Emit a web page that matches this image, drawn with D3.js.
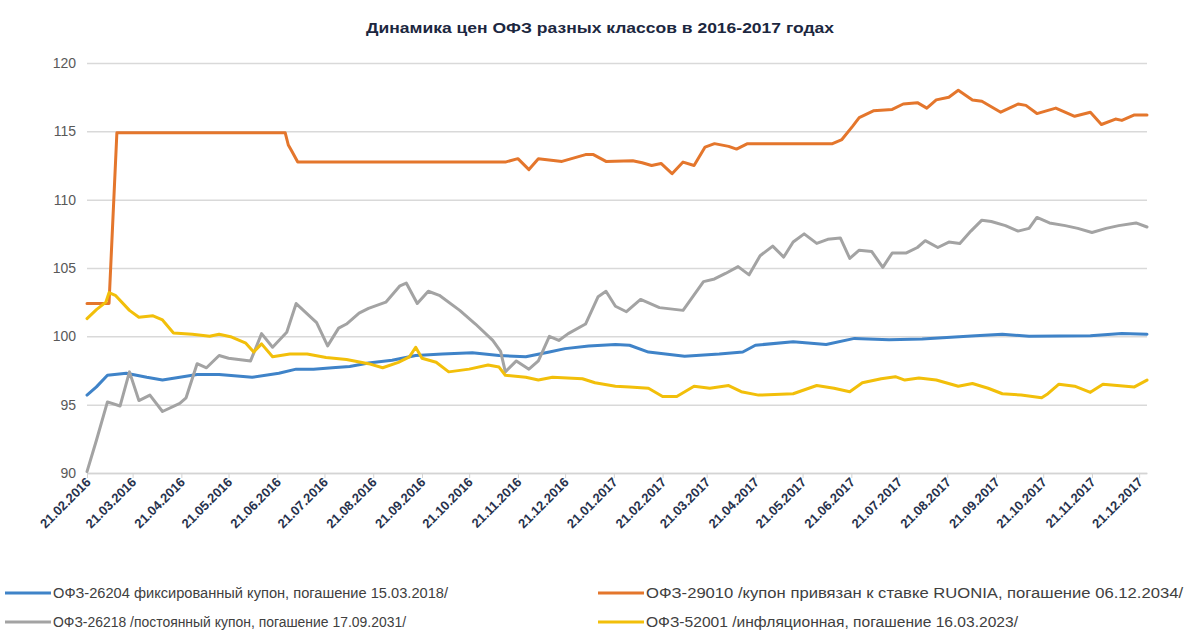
<!DOCTYPE html>
<html>
<head>
<meta charset="utf-8">
<script src="https://cdn.jsdelivr.net/npm/d3@7"></script>
<style>
  body { margin: 0; background: #fff; }
  svg { display: block; font-family: "Liberation Sans", Arial, sans-serif; }
</style>
</head>
<body>
<svg id="chart" width="1194" height="635"></svg>
<script>
// ---- Chart text ----
const chartTitle = "Динамика цен ОФЗ разных классов в 2016-2017 годах";
const yTickValues = [90, 95, 100, 105, 110, 115, 120];
const xTickLabels = [
  "21.02.2016", "21.03.2016", "21.04.2016", "21.05.2016", "21.06.2016", "21.07.2016",
  "21.08.2016", "21.09.2016", "21.10.2016", "21.11.2016", "21.12.2016", "21.01.2017",
  "21.02.2017", "21.03.2017", "21.04.2017", "21.05.2017", "21.06.2017", "21.07.2017",
  "21.08.2017", "21.09.2017", "21.10.2017", "21.11.2017", "21.12.2017"
];
const seriesNames = [
  "ОФЗ-26204 фиксированный купон, погашение 15.03.2018/",
  "ОФЗ-29010 /купон привязан к ставке RUONIA, погашение 06.12.2034/",
  "ОФЗ-26218 /постоянный купон, погашение 17.09.2031/",
  "ОФЗ-52001 /инфляционная, погашение 16.03.2023/"
];
const seriesColors = ["#3f83c8", "#e4762c", "#a3a3a3", "#f2bf0a"];

// ---- ОФЗ-26204 ----
const dates26204 = [
  "2016-02-21","2016-02-27","2016-03-05","2016-03-17","2016-03-30","2016-04-09","2016-04-20",
  "2016-05-01","2016-05-15","2016-06-05","2016-06-22","2016-07-03","2016-07-14","2016-07-26",
  "2016-08-06","2016-08-18","2016-09-02","2016-09-17","2016-10-04","2016-10-23","2016-11-09",
  "2016-11-26","2016-12-11","2016-12-21","2017-01-05","2017-01-22","2017-01-31","2017-02-12",
  "2017-03-07","2017-03-29","2017-04-13","2017-04-21","2017-05-15","2017-06-05","2017-06-23",
  "2017-07-15","2017-08-05","2017-09-08","2017-09-25","2017-10-12","2017-11-20","2017-12-10",
  "2017-12-26"
];
const values26204 = [
  95.7, 96.3, 97.15, 97.3, 97.0, 96.8, 97.0,
  97.2, 97.2, 97.0, 97.3, 97.6, 97.6, 97.7,
  97.8, 98.05, 98.25, 98.6, 98.7, 98.8, 98.6,
  98.5, 98.85, 99.1, 99.3, 99.4, 99.35, 98.85,
  98.55, 98.7, 98.85, 99.35, 99.6, 99.4, 99.85,
  99.75, 99.8, 100.05, 100.15, 100.0, 100.05, 100.2,
  100.15
];

// ---- ОФЗ-29010 ----
const dates29010 = [
  "2016-02-21","2016-03-06","2016-03-11","2016-06-26","2016-06-28","2016-06-30","2016-07-04",
  "2016-11-13","2016-11-21","2016-11-28","2016-12-04","2016-12-19","2017-01-03","2017-01-08",
  "2017-01-16","2017-02-02","2017-02-08","2017-02-14","2017-02-20","2017-02-27","2017-03-06",
  "2017-03-13","2017-03-20","2017-03-26","2017-04-04","2017-04-09","2017-04-16","2017-06-09",
  "2017-06-15","2017-06-22","2017-06-26","2017-07-05","2017-07-17","2017-07-24","2017-08-02",
  "2017-08-08","2017-08-14","2017-08-22","2017-08-28","2017-09-06","2017-09-12","2017-09-24",
  "2017-10-05","2017-10-10","2017-10-17","2017-10-29","2017-11-10","2017-11-20","2017-11-27",
  "2017-12-06","2017-12-10","2017-12-18","2017-12-26"
];
const values29010 = [
  102.4, 102.4, 114.9, 114.9, 114.0, 113.6, 112.75,
  112.75, 113.0, 112.2, 113.0, 112.8, 113.3, 113.3,
  112.8, 112.85, 112.7, 112.5, 112.65, 111.9, 112.75,
  112.5, 113.85, 114.1, 113.9, 113.7, 114.1, 114.1,
  114.4, 115.4, 116.0, 116.5, 116.6, 117.0, 117.1,
  116.7, 117.3, 117.5, 118.0, 117.3, 117.2, 116.4,
  117.0, 116.9, 116.3, 116.7, 116.1, 116.4, 115.5,
  115.9, 115.8, 116.2, 116.2
];

// ---- ОФЗ-26218 ----
const dates26218 = [
  "2016-02-21","2016-02-27","2016-03-05","2016-03-13","2016-03-19","2016-03-25","2016-04-01",
  "2016-04-09","2016-04-20","2016-04-24","2016-05-01","2016-05-07","2016-05-15","2016-05-21",
  "2016-06-04","2016-06-11","2016-06-18","2016-06-27","2016-07-03","2016-07-16","2016-07-23",
  "2016-07-30","2016-08-04","2016-08-12","2016-08-18","2016-08-29","2016-09-07","2016-09-11",
  "2016-09-18","2016-09-25","2016-10-02","2016-10-15","2016-10-25","2016-11-05","2016-11-10",
  "2016-11-13","2016-11-20","2016-11-28","2016-12-04","2016-12-11","2016-12-17","2016-12-23",
  "2017-01-03","2017-01-11","2017-01-16","2017-01-22","2017-01-29","2017-02-07","2017-02-19",
  "2017-03-06","2017-03-19","2017-03-26","2017-04-02","2017-04-10","2017-04-17","2017-04-24",
  "2017-05-02","2017-05-09","2017-05-15","2017-05-22","2017-05-30","2017-06-06","2017-06-14",
  "2017-06-20","2017-06-26","2017-07-04","2017-07-11","2017-07-17","2017-07-26","2017-08-02",
  "2017-08-07","2017-08-15","2017-08-22","2017-08-29","2017-09-05","2017-09-12","2017-09-18",
  "2017-09-27","2017-10-05","2017-10-12","2017-10-17","2017-10-25","2017-11-04","2017-11-12",
  "2017-11-21","2017-11-30","2017-12-08","2017-12-19","2017-12-26"
];
const values26218 = [
  90.1, 92.4, 95.2, 94.9, 97.4, 95.3, 95.7,
  94.5, 95.1, 95.5, 98.0, 97.7, 98.6, 98.4,
  98.2, 100.2, 99.2, 100.3, 102.4, 101.0, 99.3,
  100.6, 100.9, 101.7, 102.05, 102.5, 103.7, 103.9,
  102.4, 103.3, 103.0, 101.9, 100.9, 99.7, 98.9,
  97.4, 98.2, 97.6, 98.2, 100.0, 99.7, 100.2,
  100.9, 102.9, 103.3, 102.2, 101.8, 102.7, 102.1,
  101.9, 104.0, 104.2, 104.6, 105.1, 104.5, 105.9,
  106.6, 105.8, 106.9, 107.5, 106.8, 107.1, 107.2,
  105.7, 106.3, 106.2, 105.05, 106.1, 106.1, 106.5,
  107.0, 106.5, 106.9, 106.8, 107.7, 108.5, 108.4,
  108.1, 107.7, 107.9, 108.7, 108.3, 108.1, 107.9,
  107.6, 107.9, 108.1, 108.3, 108.0
];

// ---- ОФЗ-52001 ----
const dates52001 = [
  "2016-02-21","2016-02-27","2016-03-04","2016-03-06","2016-03-10","2016-03-19","2016-03-25",
  "2016-04-03","2016-04-09","2016-04-16","2016-04-28","2016-05-09","2016-05-15","2016-05-23",
  "2016-06-01","2016-06-06","2016-06-11","2016-06-18","2016-06-29","2016-07-10","2016-07-22",
  "2016-08-04","2016-08-18","2016-08-27","2016-09-06","2016-09-13","2016-09-17","2016-09-21",
  "2016-09-30","2016-10-08","2016-10-21","2016-11-02","2016-11-09","2016-11-13","2016-11-26",
  "2016-12-04","2016-12-13","2017-01-01","2017-01-09","2017-01-22","2017-01-31","2017-02-12",
  "2017-02-21","2017-03-02","2017-03-13","2017-03-23","2017-04-04","2017-04-12","2017-04-23",
  "2017-05-15","2017-05-30","2017-06-10","2017-06-20","2017-06-28","2017-07-10","2017-07-19",
  "2017-07-25","2017-08-03","2017-08-14","2017-08-28","2017-09-06","2017-09-16","2017-09-25",
  "2017-10-07","2017-10-20","2017-10-24","2017-10-31","2017-11-10","2017-11-20","2017-11-28",
  "2017-12-07","2017-12-18","2017-12-26"
];
const values52001 = [
  101.3, 101.95, 102.5, 103.2, 103.0, 101.9, 101.4,
  101.5, 101.2, 100.25, 100.15, 100.0, 100.15, 99.95,
  99.5, 98.85, 99.45, 98.5, 98.7, 98.7, 98.45,
  98.3, 98.0, 97.7, 98.1, 98.5, 99.2, 98.4,
  98.1, 97.4, 97.6, 97.9, 97.75, 97.15, 97.0,
  96.8, 97.0, 96.9, 96.6, 96.35, 96.3, 96.2,
  95.6, 95.6, 96.35, 96.2, 96.4, 95.95, 95.7,
  95.8, 96.4, 96.2, 95.95, 96.6, 96.9, 97.05,
  96.8, 96.95, 96.8, 96.35, 96.55, 96.2, 95.8,
  95.7, 95.5, 95.8, 96.5, 96.35, 95.9, 96.5,
  96.4, 96.3, 96.8
];

// ---- Build ----
const parseIso = d3.timeParse("%Y-%m-%d");
const parseLabel = d3.timeParse("%d.%m.%Y");
const formatLabel = d3.timeFormat("%d.%m.%Y");

const seriesDates = [dates26204, dates29010, dates26218, dates52001];
const seriesValues = [values26204, values29010, values26218, values52001];
const series = seriesDates.map((ds, i) => ({
  name: seriesNames[i],
  color: seriesColors[i],
  points: ds.map((d, j) => ({ date: parseIso(d), value: seriesValues[i][j] }))
}));

const plot = { left: 87, right: 1147, top: 63, bottom: 473 };

const x = d3.scaleTime()
  .domain([parseIso("2016-02-21"), parseIso("2017-12-26")])
  .range([plot.left, plot.right]);
const y = d3.scaleLinear()
  .domain([90, 120])
  .range([plot.bottom, plot.top]);

const svg = d3.select("#chart");

// Title
svg.append("text")
  .attr("x", 600).attr("y", 33)
  .attr("text-anchor", "middle")
  .attr("font-size", 15).attr("font-weight", "bold")
  .attr("fill", "#1c2740")
  .attr("textLength", 468).attr("lengthAdjust", "spacingAndGlyphs")
  .text(chartTitle);

// Y axis with gridlines
const yAxis = svg.append("g")
  .attr("transform", `translate(${plot.left},0)`)
  .call(d3.axisLeft(y).tickValues(yTickValues)
    .tickSize(-(plot.right - plot.left)).tickPadding(11).tickFormat(d3.format("d")));
yAxis.select(".domain").remove();
yAxis.selectAll(".tick line").attr("stroke", "#d9d9d9").attr("stroke-width", 1.5);
yAxis.selectAll(".tick text")
  .attr("font-size", 14).attr("fill", "#595959")
  .attr("font-family", "'Liberation Sans', Arial, sans-serif");

// X axis
const xTickDates = xTickLabels.map(parseLabel);
const xAxis = svg.append("g")
  .attr("transform", `translate(0,${plot.bottom})`)
  .call(d3.axisBottom(x).tickValues(xTickDates).tickSize(5).tickSizeOuter(0).tickFormat(formatLabel));
xAxis.select(".domain").attr("stroke", "#d4d4d4").attr("stroke-width", 1.5);
xAxis.selectAll(".tick line").attr("stroke", "#d4d4d4");
xAxis.selectAll(".tick text")
  .attr("font-size", 13).attr("font-weight", "bold").attr("fill", "#27324d")
  .attr("font-family", "'Liberation Sans', Arial, sans-serif")
  .attr("text-anchor", "end")
  .attr("dy", null).attr("y", 0)
  .attr("transform", "translate(4,10) rotate(-45)");

// Series lines
const line = d3.line()
  .x(d => x(d.date))
  .y(d => y(d.value))
  .curve(d3.curveLinear);

svg.append("g").selectAll("path")
  .data(series)
  .join("path")
  .attr("d", d => line(d.points))
  .attr("fill", "none")
  .attr("stroke", d => d.color)
  .attr("stroke-width", 3)
  .attr("stroke-linejoin", "round")
  .attr("stroke-linecap", "round");

// Legend (two columns, two rows)
const legendPos = [
  { x: 5, y: 593, w: 395 },
  { x: 598, y: 593, w: 537 },
  { x: 5, y: 622, w: 353 },
  { x: 598, y: 622, w: 372 }
];
const legend = svg.append("g").selectAll("g")
  .data(series)
  .join("g")
  .attr("transform", (d, i) => `translate(${legendPos[i].x},${legendPos[i].y})`);
legend.append("line")
  .attr("x1", 0).attr("x2", 46).attr("y1", 0).attr("y2", 0)
  .attr("stroke", d => d.color).attr("stroke-width", 3);
legend.append("text")
  .attr("x", 48).attr("y", 5)
  .attr("font-size", 14).attr("fill", "#404040")
  .attr("textLength", (d, i) => legendPos[i].w)
  .attr("lengthAdjust", "spacingAndGlyphs")
  .text(d => d.name);
</script>
</body>
</html>
